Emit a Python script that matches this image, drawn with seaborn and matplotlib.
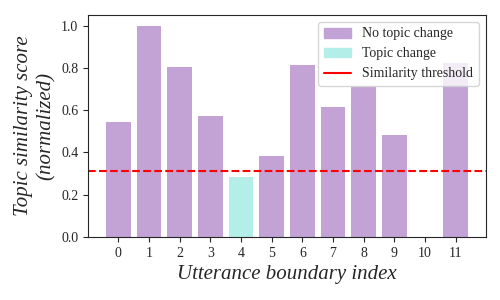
import matplotlib
matplotlib.use("Agg")
import matplotlib.pyplot as plt
import pandas as pd
import seaborn as sns
from matplotlib.lines import Line2D
from matplotlib.patches import Patch

# per-boundary normalized similarity scores
boundary = [str(i) for i in range(12)]
scores = [0.546, 1.0, 0.805, 0.571, 0.285, 0.381, 0.814, 0.614, 0.71, 0.481, 0.0, 0.825]
change = ["No topic change"] * 4 + ["Topic change"] + ["No topic change"] * 7
threshold = 0.311

palette = {"No topic change": "#c3a3d6", "Topic change": "#b3efe8"}

sns.set_style("ticks")
plt.rcParams["font.family"] = ["Liberation Serif", "DejaVu Serif"]

df = pd.DataFrame({"boundary": boundary, "score": scores, "change": change})

fig, ax = plt.subplots(figsize=(5, 3), dpi=100)
sns.barplot(data=df, x="boundary", y="score", hue="change", palette=palette,
            dodge=False, saturation=1, width=0.8, linewidth=0, legend=False, ax=ax)
ax.axhline(threshold, color="red", linestyle="--", linewidth=1.5)

ax.set_xlabel("Utterance boundary index", fontsize=15, style="italic")
ax.set_ylabel("Topic similarity score\n(normalized)", fontsize=15, style="italic",
              labelpad=4)
ax.tick_params(labelsize=10)
ax.set_xlim(-0.99, len(boundary) - 0.01)
ax.set_ylim(0, 1.05)

handles = [Patch(facecolor=palette["No topic change"], edgecolor=palette["No topic change"]),
           Patch(facecolor=palette["Topic change"], edgecolor=palette["Topic change"]),
           Line2D([], [], color="red", linewidth=1.5)]
ax.legend(handles, ["No topic change", "Topic change", "Similarity threshold"],
          loc="upper right", fontsize=10, framealpha=0.8)

fig.subplots_adjust(left=0.176, right=0.972, top=0.95, bottom=0.21)
fig.savefig("out.png", dpi=100)
